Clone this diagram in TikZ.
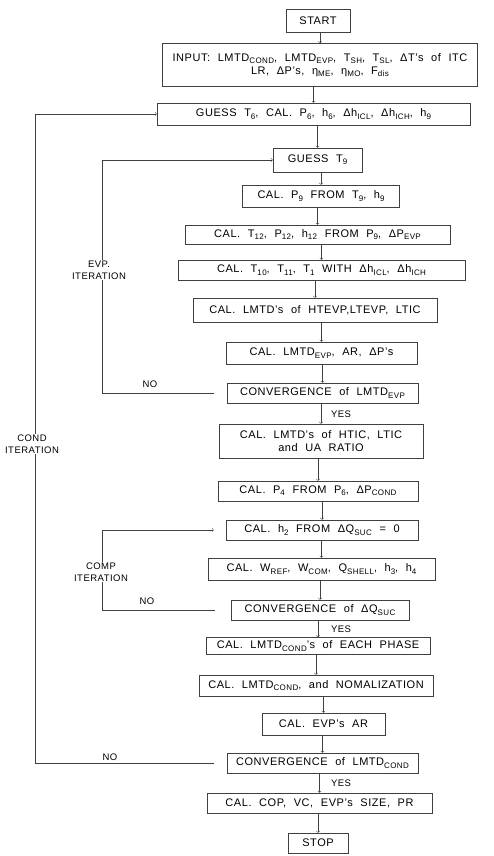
\documentclass[tikz,border=0pt]{standalone}
\usepackage{fontspec}
\setmainfont[LetterSpace=5, WordSpace=2.1]{Liberation Sans}
\newcommand{\sbs}[1]{\raisebox{-0.4ex}{\fontsize{8}{8}\selectfont #1}}
\tikzset{
  box/.style={draw=black!75, line width=0.5pt, minimum height=20pt, inner sep=1pt,
    align=center, font=\fontsize{11}{13.5}\selectfont},
  flow/.style={->, draw=black!75, line width=0.5pt},
  lbl/.style={font=\fontsize{9.5}{12}\selectfont, inner sep=1pt},
  iter/.style={lbl, fill=white, align=center},
}

\begin{document}
\begin{tikzpicture}[x=1pt, y=-1pt]
  \useasboundingbox (0,0) rectangle (494,856);

  % Main chain
  \node[box, minimum width=64pt, minimum height=23pt] (start) at (318,20.5) {START};
  \node[box, minimum width=315pt, minimum height=43pt] (input) at (320,65)
    {INPUT: LMTD\sbs{COND}, LMTD\sbs{EVP}, T\sbs{SH}, T\sbs{SL}, ΔT's of ITC\\
     LR, ΔP's, η\sbs{ME}, η\sbs{MO}, F\sbs{dis}};
  \node[box, minimum width=313pt, minimum height=22pt] (guess6) at (313.5,114)
    {GUESS T\sbs{6}, CAL. P\sbs{6}, h\sbs{6}, Δh\sbs{ICL}, Δh\sbs{ICH}, h\sbs{9}};
  \node[box, minimum width=89pt, minimum height=24pt] (guess9) at (317.5,160) {GUESS T\sbs{9}};
  \node[box, minimum width=157pt, minimum height=22pt] (calp9) at (321,196)
    {CAL. P\sbs{9} FROM T\sbs{9}, h\sbs{9}};
  \node[box, minimum width=265pt, minimum height=19pt] (calt12) at (317.5,234.5)
    {CAL. T\sbs{12}, P\sbs{12}, h\sbs{12} FROM P\sbs{9}, ΔP\sbs{EVP}};
  \node[box, minimum width=287pt] (calt10) at (321.5,270)
    {CAL. T\sbs{10}, T\sbs{11}, T\sbs{1} WITH Δh\sbs{ICL}, Δh\sbs{ICH}};
  \node[box, minimum width=244pt, minimum height=24pt] (lmtds) at (315,310)
    {CAL. LMTD's of HTEVP,LTEVP, LTIC};
  \node[box, minimum width=191pt, minimum height=22pt] (lmtdevp) at (321.5,353)
    {CAL. LMTD\sbs{EVP}, AR, ΔP's};
  \node[box, minimum width=191pt] (convevp) at (322.5,393) {CONVERGENCE of LMTD\sbs{EVP}};
  \node[box, minimum width=204pt, minimum height=34pt] (htic) at (321,441)
    {CAL. LMTD's of HTIC, LTIC\\and UA RATIO};
  \node[box, minimum width=200pt] (calp4) at (318,491)
    {CAL. P\sbs{4} FROM P\sbs{6}, ΔP\sbs{COND}};
  \node[box, minimum width=192pt] (calh2) at (322,530)
    {CAL. h\sbs{2} FROM ΔQ\sbs{SUC} = 0};
  \node[box, minimum width=227pt, minimum height=22pt] (calw) at (321.5,569)
    {CAL. W\sbs{REF}, W\sbs{COM}, Q\sbs{SHELL}, h\sbs{3}, h\sbs{4}};
  \node[box, minimum width=178pt] (convq) at (320,610) {CONVERGENCE of ΔQ\sbs{SUC}};
  \node[box, minimum width=224pt, minimum height=17pt] (phase) at (318,646)
    {CAL. LMTD\sbs{COND}'s of EACH PHASE};
  \node[box, minimum width=234pt, minimum height=21pt] (nomal) at (316,685.5)
    {CAL. LMTD\sbs{COND}, and NOMALIZATION};
  \node[box, minimum width=123pt, minimum height=22pt] (evpar) at (323.5,724) {CAL. EVP's AR};
  \node[box, minimum width=191pt] (convcond) at (322.5,763) {CONVERGENCE of LMTD\sbs{COND}};
  \node[box, minimum width=225pt] (cop) at (319.5,803) {CAL. COP, VC, EVP's SIZE, PR};
  \node[box, minimum width=60pt] (stop) at (318,843) {STOP};

  \foreach \a/\b in {start/input, input/guess6, guess6/guess9, guess9/calp9,
      calp9/calt12, calt12/calt10, calt10/lmtds, lmtds/lmtdevp, lmtdevp/convevp,
      convevp/htic, htic/calp4, calp4/calh2, calh2/calw, calw/convq, convq/phase,
      phase/nomal, nomal/evpar, evpar/convcond, convcond/cop, cop/stop}
    \draw[flow] (\a.south -| \b.north) -- (\b.north);

  % YES branches
  \node[lbl] (yesevp) at (341,414) {YES};
  \node[lbl] (yescomp) at (341,629) {YES};
  \node[lbl] (yescond) at (341,783) {YES};

  % EVP iteration
  \coordinate (evpcorner) at (102,393);
  \draw[flow, shorten <=13pt] (convevp.west) -- (evpcorner) |- (guess9.west);
  \node[iter] (evplbl) at (99,270) {EVP.\\ITERATION};
  \node[lbl] (evpno) at (150,384) {NO};

  % COMP iteration
  \coordinate (compcorner) at (102,610);
  \draw[flow, shorten <=16pt, shorten >=12pt] (convq.west) -- (compcorner) |- (calh2.west);
  \node[iter] (complbl) at (101,572) {COMP\\ITERATION};
  \node[lbl] (compno) at (147,601) {NO};

  % COND iteration
  \coordinate (condcorner) at (35,763);
  \draw[flow, shorten <=13pt] (convcond.west) -- (condcorner) |- (guess6.west);
  \node[iter] (condlbl) at (32,444) {COND\\ITERATION};
  \node[lbl] (condno) at (110,757) {NO};
\end{tikzpicture}
\end{document}
